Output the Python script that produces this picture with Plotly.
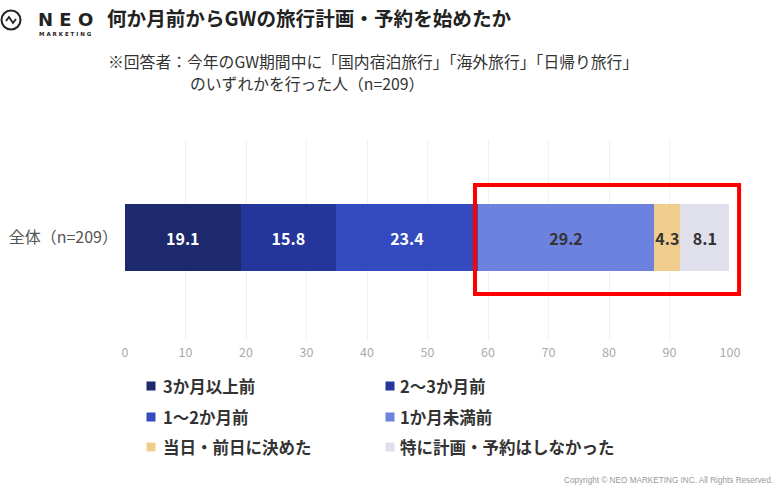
import plotly.graph_objects as go

categories = ["全体（n=209）"]
series_names = ["3か月以上前", "2〜3か月前", "1〜2か月前", "1か月未満前", "当日・前日に決めた", "特に計画・予約はしなかった"]
series_values = [19.1, 15.8, 23.4, 29.2, 4.3, 8.1]
colors = ["#1c296c", "#24369a", "#334bbf", "#6d82de", "#f1cd8d", "#dfe0ec"]
text_colors = ["white", "white", "white", "#333333", "#333333", "#333333"]
tick_vals = [0, 10, 20, 30, 40, 50, 60, 70, 80, 90, 100]
x_range = [0, 100]

FONT = "Noto Sans CJK JP"
W, H = 780, 490
L, R, T, B = 125, 50, 140, 150
PW, PH = W - L - R, H - T - B


def px(xp):
    return (xp - L) / PW


def py(yp):
    return (H - B - yp) / PH


def data_to_paper(v):
    return (v - x_range[0]) / (x_range[1] - x_range[0])


fig = go.Figure()
for name, val, col, tc in zip(series_names, series_values, colors, text_colors):
    fig.add_trace(go.Bar(
        y=categories, x=[val], name=name, orientation="h",
        marker=dict(color=col, line=dict(width=0)),
        text=[f"{val:.1f}"], textposition="inside", insidetextanchor="middle",
        textangle=0, constraintext="none",
        textfont=dict(color=tc, size=16, family=FONT, weight="bold"),
        hoverinfo="skip", showlegend=False,
    ))

# highlight box around the last three segments
start_hl = sum(series_values[:3])
end_hl = sum(series_values)
fig.add_shape(type="rect", xref="paper", yref="paper",
              x0=data_to_paper(start_hl - 0.45), x1=data_to_paper(end_hl + 1.6),
              y0=0.23, y1=0.775,
              line=dict(color="#ff0000", width=4), fillcolor="rgba(0,0,0,0)")

# manual legend: two columns, three rows
col_marker_x = [151, 390]
col_text_x = [161, 398]
row_y = [386, 417, 447]
for i, (name, col) in enumerate(zip(series_names, colors)):
    c, r = i % 2, i // 2
    fig.add_shape(type="rect", xref="paper", yref="paper", xsizemode="pixel", ysizemode="pixel",
                  xanchor=px(col_marker_x[c]), yanchor=py(row_y[r]),
                  x0=-4.5, x1=4.5, y0=-4.5, y1=4.5,
                  line=dict(width=0), fillcolor=col)
    fig.add_annotation(xref="paper", yref="paper", x=px(col_text_x[c]), y=py(row_y[r]),
                       xanchor="left", yanchor="middle", showarrow=False, text=name,
                       font=dict(size=16.5, color="#333333", family=FONT, weight="bold"))

# logo
fig.add_shape(type="circle", xref="paper", yref="paper", xsizemode="pixel", ysizemode="pixel",
              xanchor=px(11), yanchor=py(20), x0=-9.5, x1=9.5, y0=-9.5, y1=9.5,
              line=dict(color="#222222", width=2))
fig.add_shape(type="path", xref="paper", yref="paper", xsizemode="pixel", ysizemode="pixel",
              xanchor=px(11), yanchor=py(20),
              path="M -5,-1 L -2,3 L 2,-3 L 5,1",
              line=dict(color="#222222", width=1.8))

fig.update_layout(
    width=W, height=H,
    margin=dict(l=L, r=R, t=T, b=B, autoexpand=False),
    paper_bgcolor="white", plot_bgcolor="white",
    barmode="stack", bargap=0.665,
    uniformtext=dict(minsize=16, mode="show"),
    font=dict(family=FONT, color="#333333"),
    xaxis=dict(range=x_range, tickvals=tick_vals, showgrid=True, gridcolor="#f2f2f2",
               gridwidth=1, zeroline=False, showline=False, automargin=False,
               tickfont=dict(size=12.5, color="#aaaaaa", family=FONT), ticks="",
               ticklabelstandoff=3),
    yaxis=dict(showgrid=False, zeroline=False, showline=False, ticks="", automargin=False,
               tickfont=dict(size=16, color="#555555", family=FONT), ticklabelstandoff=6,
               range=[-0.5125, 0.4875]),
    showlegend=False,
)

fig.add_annotation(xref="paper", yref="paper", x=px(105), y=py(18),
                   xanchor="left", yanchor="middle", showarrow=False,
                   text="何か月前からGWの旅行計画・予約を始めたか",
                   font=dict(size=19.6, color="#222222", family=FONT, weight="bold"))
fig.add_annotation(xref="paper", yref="paper", x=px(36), y=py(19),
                   xanchor="left", yanchor="middle", showarrow=False,
                   text="N E O", font=dict(size=18, color="#222222", family="DejaVu Sans", weight="bold"))
fig.add_annotation(xref="paper", yref="paper", x=px(37), y=py(34),
                   xanchor="left", yanchor="middle", showarrow=False,
                   text="M A R K E T I N G", font=dict(size=5.5, color="#222222", family="DejaVu Sans", weight="bold"))
fig.add_annotation(xref="paper", yref="paper", x=px(106), y=py(61),
                   xanchor="left", yanchor="middle", showarrow=False,
                   text="※回答者：今年のGW期間中に「国内宿泊旅行」「海外旅行」「日帰り旅行」",
                   font=dict(size=15.8, color="#333333", family=FONT))
fig.add_annotation(xref="paper", yref="paper", x=px(188), y=py(83),
                   xanchor="left", yanchor="middle", showarrow=False,
                   text="のいずれかを行った人（n=209）",
                   font=dict(size=15.8, color="#333333", family=FONT))
fig.add_annotation(xref="paper", yref="paper", x=px(775), y=py(480),
                   xanchor="right", yanchor="middle", showarrow=False,
                   text="Copyright © NEO MARKETING INC. All Rights Reserved.",
                   font=dict(size=8.2, color="#999999", family="Liberation Sans"))

fig.write_html("out.html", config={"displayModeBar": False},
               post_script="document.body.style.margin='0';document.body.style.overflow='hidden';")
